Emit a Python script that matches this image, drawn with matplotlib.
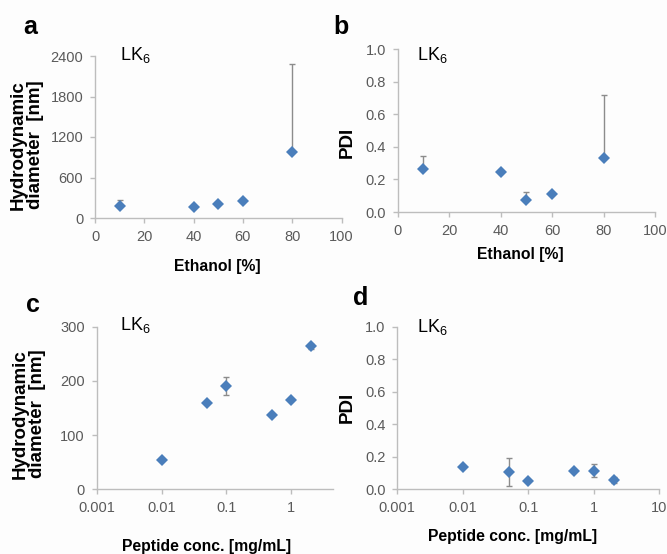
import matplotlib
matplotlib.use('Agg')
import matplotlib.pyplot as plt
from matplotlib.ticker import FixedLocator, FixedFormatter

# Panel a/b: ethanol series
ethanol = [10, 40, 50, 60, 80]
eth_diam = [182, 158, 203, 252, 975]
eth_diam_err = [85, 0, 0, 0, 1300]  # upper bars only
eth_pdi = [0.264, 0.244, 0.074, 0.109, 0.332]
eth_pdi_err = [0.082, 0, 0.047, 0, 0.389]

# Panel c/d: peptide concentration series
conc = [0.01, 0.05, 0.1, 0.5, 1, 2]
conc_diam = [54, 159, 191, 137, 165, 264]
conc_diam_err = [0, 0, 17, 0, 0, 5]
conc_pdi = [0.135, 0.106, 0.053, 0.114, 0.114, 0.057]
conc_pdi_err = [0, 0.085, 0, 0, 0.04, 0.02]

W, H = 667, 554
plt.rcParams['font.family'] = ['Liberation Sans', 'DejaVu Sans']
plt.rcParams['mathtext.default'] = 'regular'

blue = '#4a7ebb'
grey_err = '#8c8c8c'
axis_col = '#bdbdbd'
tick_col = '#5a5a5a'

fig = plt.figure(figsize=(W / 100, H / 100), dpi=100)
fig.patch.set_facecolor('#fdfdfd')


def px_axes(left, right, top, bottom):
    """Add axes from pixel coordinates of the reference"""
    ax = fig.add_axes([left / W, 1 - bottom / H, (right - left) / W, (bottom - top) / H])
    ax.set_facecolor('none')
    for s in ['top', 'right']:
        ax.spines[s].set_visible(False)
    for s in ['left', 'bottom']:
        ax.spines[s].set_color(axis_col)
        ax.spines[s].set_linewidth(1.0)
    ax.tick_params(axis='both', colors=axis_col, labelcolor=tick_col, labelsize=10.5,
                   length=3.5, width=1, direction='out', pad=5)
    return ax


def ftext(x, y, s, **kw):
    fig.text(x / W, 1 - y / H, s, **kw)


def draw(ax, x, y, err, upper_only):
    if upper_only:
        yerr = [[0] * len(err), err]
    else:
        yerr = err
    ax.errorbar(x, y, yerr=yerr, fmt='none', ecolor=grey_err, elinewidth=1, capsize=2.5, capthick=1, zorder=2)
    ax.plot(x, y, 'D', color=blue, markersize=6.5, markeredgewidth=0, zorder=3)


# a
ax = px_axes(95, 341.5, 56, 218)
draw(ax, ethanol, eth_diam, eth_diam_err, True)
ax.set_xlim(0, 100)
ax.set_ylim(0, 2400)
ax.set_xticks(range(0, 101, 20))
ax.set_yticks(range(0, 2401, 600))

# b
ax = px_axes(397.7, 655, 49.3, 212)
draw(ax, ethanol, eth_pdi, eth_pdi_err, True)
ax.set_xlim(0, 100)
ax.set_ylim(0, 1.0)
ax.set_xticks(range(0, 101, 20))
ax.set_yticks([0.0, 0.2, 0.4, 0.6, 0.8, 1.0])
ax.set_yticklabels(['0.0', '0.2', '0.4', '0.6', '0.8', '1.0'])

# c
ax = px_axes(96.7, 333, 326.7, 489.3)
draw(ax, conc, conc_diam, conc_diam_err, False)
ax.set_xscale('log')
ax.set_xlim(0.001, 4.43)
ax.set_ylim(0, 300)
ax.xaxis.set_major_locator(FixedLocator([0.001, 0.01, 0.1, 1]))
ax.xaxis.set_major_formatter(FixedFormatter(['0.001', '0.01', '0.1', '1']))
ax.xaxis.set_minor_locator(FixedLocator([]))
ax.set_yticks([0, 100, 200, 300])

# d
ax = px_axes(397.3, 659.3, 326.7, 489.3)
draw(ax, conc, conc_pdi, conc_pdi_err, False)
ax.set_xscale('log')
ax.set_xlim(0.001, 10)
ax.set_ylim(0, 1.0)
ax.xaxis.set_major_locator(FixedLocator([0.001, 0.01, 0.1, 1, 10]))
ax.xaxis.set_major_formatter(FixedFormatter(['0.001', '0.01', '0.1', '1', '10']))
ax.xaxis.set_minor_locator(FixedLocator([]))
ax.set_yticks([0.0, 0.2, 0.4, 0.6, 0.8, 1.0])
ax.set_yticklabels(['0.0', '0.2', '0.4', '0.6', '0.8', '1.0'])

# panel letters
for x, y, s in [(30, 27, 'a'), (341, 27, 'b'), (33, 305, 'c'), (361, 298, 'd')]:
    ftext(x, y, s, fontsize=18, fontweight='bold', ha='center', va='center')

# LK6 labels
for x, y in [(120, 55), (417, 55), (120, 325), (417, 327)]:
    ftext(x, y, r'LK$_6$', fontsize=13, ha='left', va='center')

# axis titles (vertical text in the reference is taller, horizontal narrower)
vlab = dict(fontsize=13.5, fontweight='bold', ha='center', va='center', rotation=90)
hlab = dict(fontsize=11.3, fontweight='bold', ha='center', va='center')
ftext(27, 145, 'Hydrodynamic\ndiameter  [nm]', linespacing=1.0, **vlab)
ftext(29, 414, 'Hydrodynamic\ndiameter  [nm]', linespacing=1.0, **vlab)
ftext(347, 142, 'PDI', **vlab)
ftext(347, 407, 'PDI', **vlab)
ftext(217, 267, 'Ethanol [%]', **hlab)
ftext(520, 255, 'Ethanol [%]', **hlab)
ftext(207, 546, 'Peptide conc. [mg/mL]', **hlab)
ftext(513, 537, 'Peptide conc. [mg/mL]', **hlab)

plt.savefig('out.png', dpi=100, facecolor=fig.get_facecolor())
